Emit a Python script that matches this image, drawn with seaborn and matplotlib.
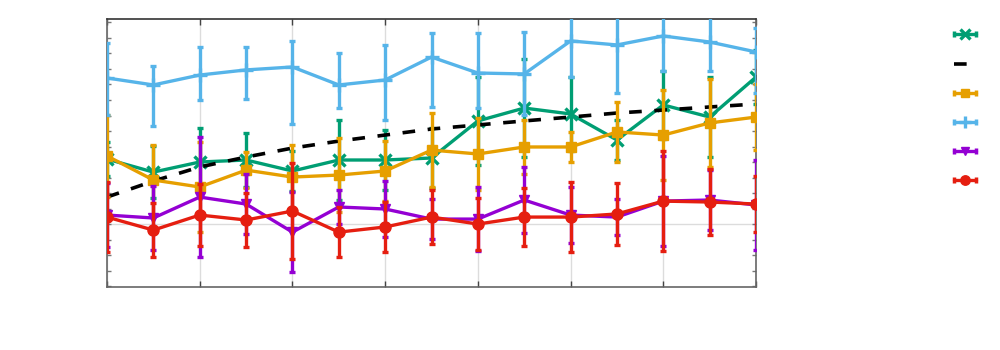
import numpy as np
import pandas as pd
import matplotlib
matplotlib.use("Agg")
import matplotlib.pyplot as plt
import seaborn as sns
from matplotlib.lines import Line2D
from matplotlib.legend_handler import HandlerLine2D, HandlerTuple

# ---- data ----
x = list(range(15))

green = [4.19, 3.35, 4.00, 4.13, 3.42, 4.13, 4.13, 4.26, 6.65, 7.48, 7.10, 5.42, 7.68, 6.90, 9.48]
green_err = [1.10, 1.68, 2.19, 1.74, 1.29, 2.58, 1.94, 1.94, 2.84, 3.16, 2.39, 1.29, 2.19, 2.58, 1.74]

trend = [1.74, 2.77, 3.68, 4.32, 4.90, 5.35, 5.74, 6.13, 6.39, 6.65, 6.90, 7.16, 7.35, 7.55, 7.74]

orange = [4.39, 2.84, 2.39, 3.48, 3.03, 3.16, 3.42, 4.77, 4.52, 4.97, 4.97, 5.94, 5.74, 6.52, 6.90]
orange_err = [2.65, 2.26, 2.90, 1.16, 2.06, 2.39, 1.94, 2.39, 2.32, 1.74, 0.97, 1.94, 2.90, 2.84, 2.13]

blue = [9.42, 8.97, 9.61, 9.94, 10.13, 8.97, 9.29, 10.77, 9.74, 9.68, 11.81, 11.55, 12.13, 11.74, 11.10]
blue_hi = [11.68, 10.19, 11.42, 11.42, 11.81, 11.03, 11.55, 12.32, 12.32, 12.39, 14.13, 14.65, 14.39, 13.61, 12.65]
blue_lo = [7.03, 6.32, 8.00, 8.06, 6.45, 7.48, 6.71, 7.55, 7.48, 7.03, 9.48, 8.45, 9.87, 9.87, 8.45]

purple = [0.58, 0.39, 1.74, 1.29, -0.52, 1.10, 0.97, 0.32, 0.32, 1.55, 0.58, 0.45, 1.48, 1.55, 1.23]
purple_err = [2.06, 2.06, 3.87, 1.94, 2.58, 1.10, 1.81, 1.29, 2.06, 2.13, 1.81, 1.16, 2.90, 1.94, 2.90]

red = [0.45, -0.39, 0.58, 0.26, 0.84, -0.52, -0.19, 0.45, 0.00, 0.45, 0.45, 0.65, 1.48, 1.42, 1.29]
red_err = [2.26, 1.74, 2.00, 1.74, 3.10, 1.61, 1.61, 1.74, 1.68, 1.87, 2.26, 2.00, 3.23, 2.13, 1.81]

c_green, c_black, c_orange = "#009E73", "#000000", "#E69F00"
c_blue, c_purple, c_red = "#56B4E9", "#9400D3", "#E51E10"

sns.set_theme(style="white")
plt.rcParams["font.family"] = ["DejaVu Sans"]

fig = plt.figure(figsize=(10, 3.5), dpi=100)
ax = fig.add_axes([0.107, 0.18, 0.649, 0.766])

# grid
for gx in range(0, 15, 2):
    ax.axvline(gx, color="#dcdcdc", lw=1, zorder=0)
ax.axhline(0, color="#dcdcdc", lw=1, zorder=0)

lw = 2.4
DASH = (3.5, 3.5)
series = [
    ("g", green, np.array(green_err), c_green, "x", 9, 2.4),
    ("o", orange, np.array(orange_err), c_orange, "s", 6.5, 1),
    ("b", blue, None, c_blue, "+", 10, 2.4),
    ("p", purple, np.array(purple_err), c_purple, "v", 7, 1),
    ("r", red, np.array(red_err), c_red, "o", 8, 1),
]

handles = []
z = 2
for key, y, err, col, mk, ms, mew in series:
    if err is None:
        yerr = [np.array(y) - np.array(blue_lo), np.array(blue_hi) - np.array(y)]
    else:
        yerr = err
    ax.errorbar(x, y, yerr=yerr, fmt="none", ecolor=col, elinewidth=lw,
                capsize=2.5, capthick=lw, zorder=z)
    df = pd.DataFrame({"x": x, "y": y})
    sns.lineplot(data=df, x="x", y="y", ax=ax, color=col, lw=lw, marker=mk,
                 markersize=ms, markeredgewidth=mew, markeredgecolor=col,
                 zorder=z + 0.5, legend=False)
    main = Line2D([], [], color=col, lw=lw, marker=mk, markersize=ms * 0.85,
                  markeredgewidth=mew, markeredgecolor=col)
    caps = Line2D([], [], color=col, lw=0, marker="|", markersize=5,
                  markeredgewidth=2.5, linestyle="none")
    handles.append(((caps, main), main, caps))
    z += 1
    if key == "g":
        dft = pd.DataFrame({"x": x, "y": trend})
        sns.lineplot(data=dft, x="x", y="y", ax=ax, color=c_black, lw=2.6,
                     dashes=DASH, zorder=z + 0.5, legend=False)
        tl = Line2D([], [], color=c_black, lw=2.6, dashes=DASH)
        handles.append((tl, None, None))
        z += 1

ax.set_xlim(0, 14)
ax.set_ylim(-4.06, 13.23)
ax.set_xticks(range(0, 15, 2))
ax.set_yticks(range(-4, 14))
ax.set_xticklabels([])
ax.set_yticklabels([])
ax.set_xlabel("")
ax.set_ylabel("")
ax.tick_params(axis="x", direction="in", length=4, width=1, color="#444444",
               top=True, bottom=True)
ax.tick_params(axis="y", direction="in", length=3, width=1, color="#777777",
               left=True, right=True)
for s in ax.spines.values():
    s.set_color("#666666")
    s.set_linewidth(1.2)
ax.spines["top"].set_color("#333333")

# legend
hmap = {}
leg_handles = []
for h, main, caps in handles:
    if main is None:
        leg_handles.append(h)
    else:
        hmap[main] = HandlerLine2D(numpoints=1)
        hmap[caps] = HandlerLine2D(numpoints=2, marker_pad=0.0)
        hmap[h] = HandlerTuple(ndivide=1, pad=0)
        leg_handles.append(h)
leg = fig.legend(leg_handles, [" "] * len(leg_handles), handler_map=hmap,
                 loc="upper left", bbox_to_anchor=(0.954, 0.919),
                 frameon=False, fontsize=10, handlelength=1.6,
                 handletextpad=0.0, labelspacing=1.09, borderpad=0,
                 borderaxespad=0)

fig.savefig("out.png", dpi=100)
